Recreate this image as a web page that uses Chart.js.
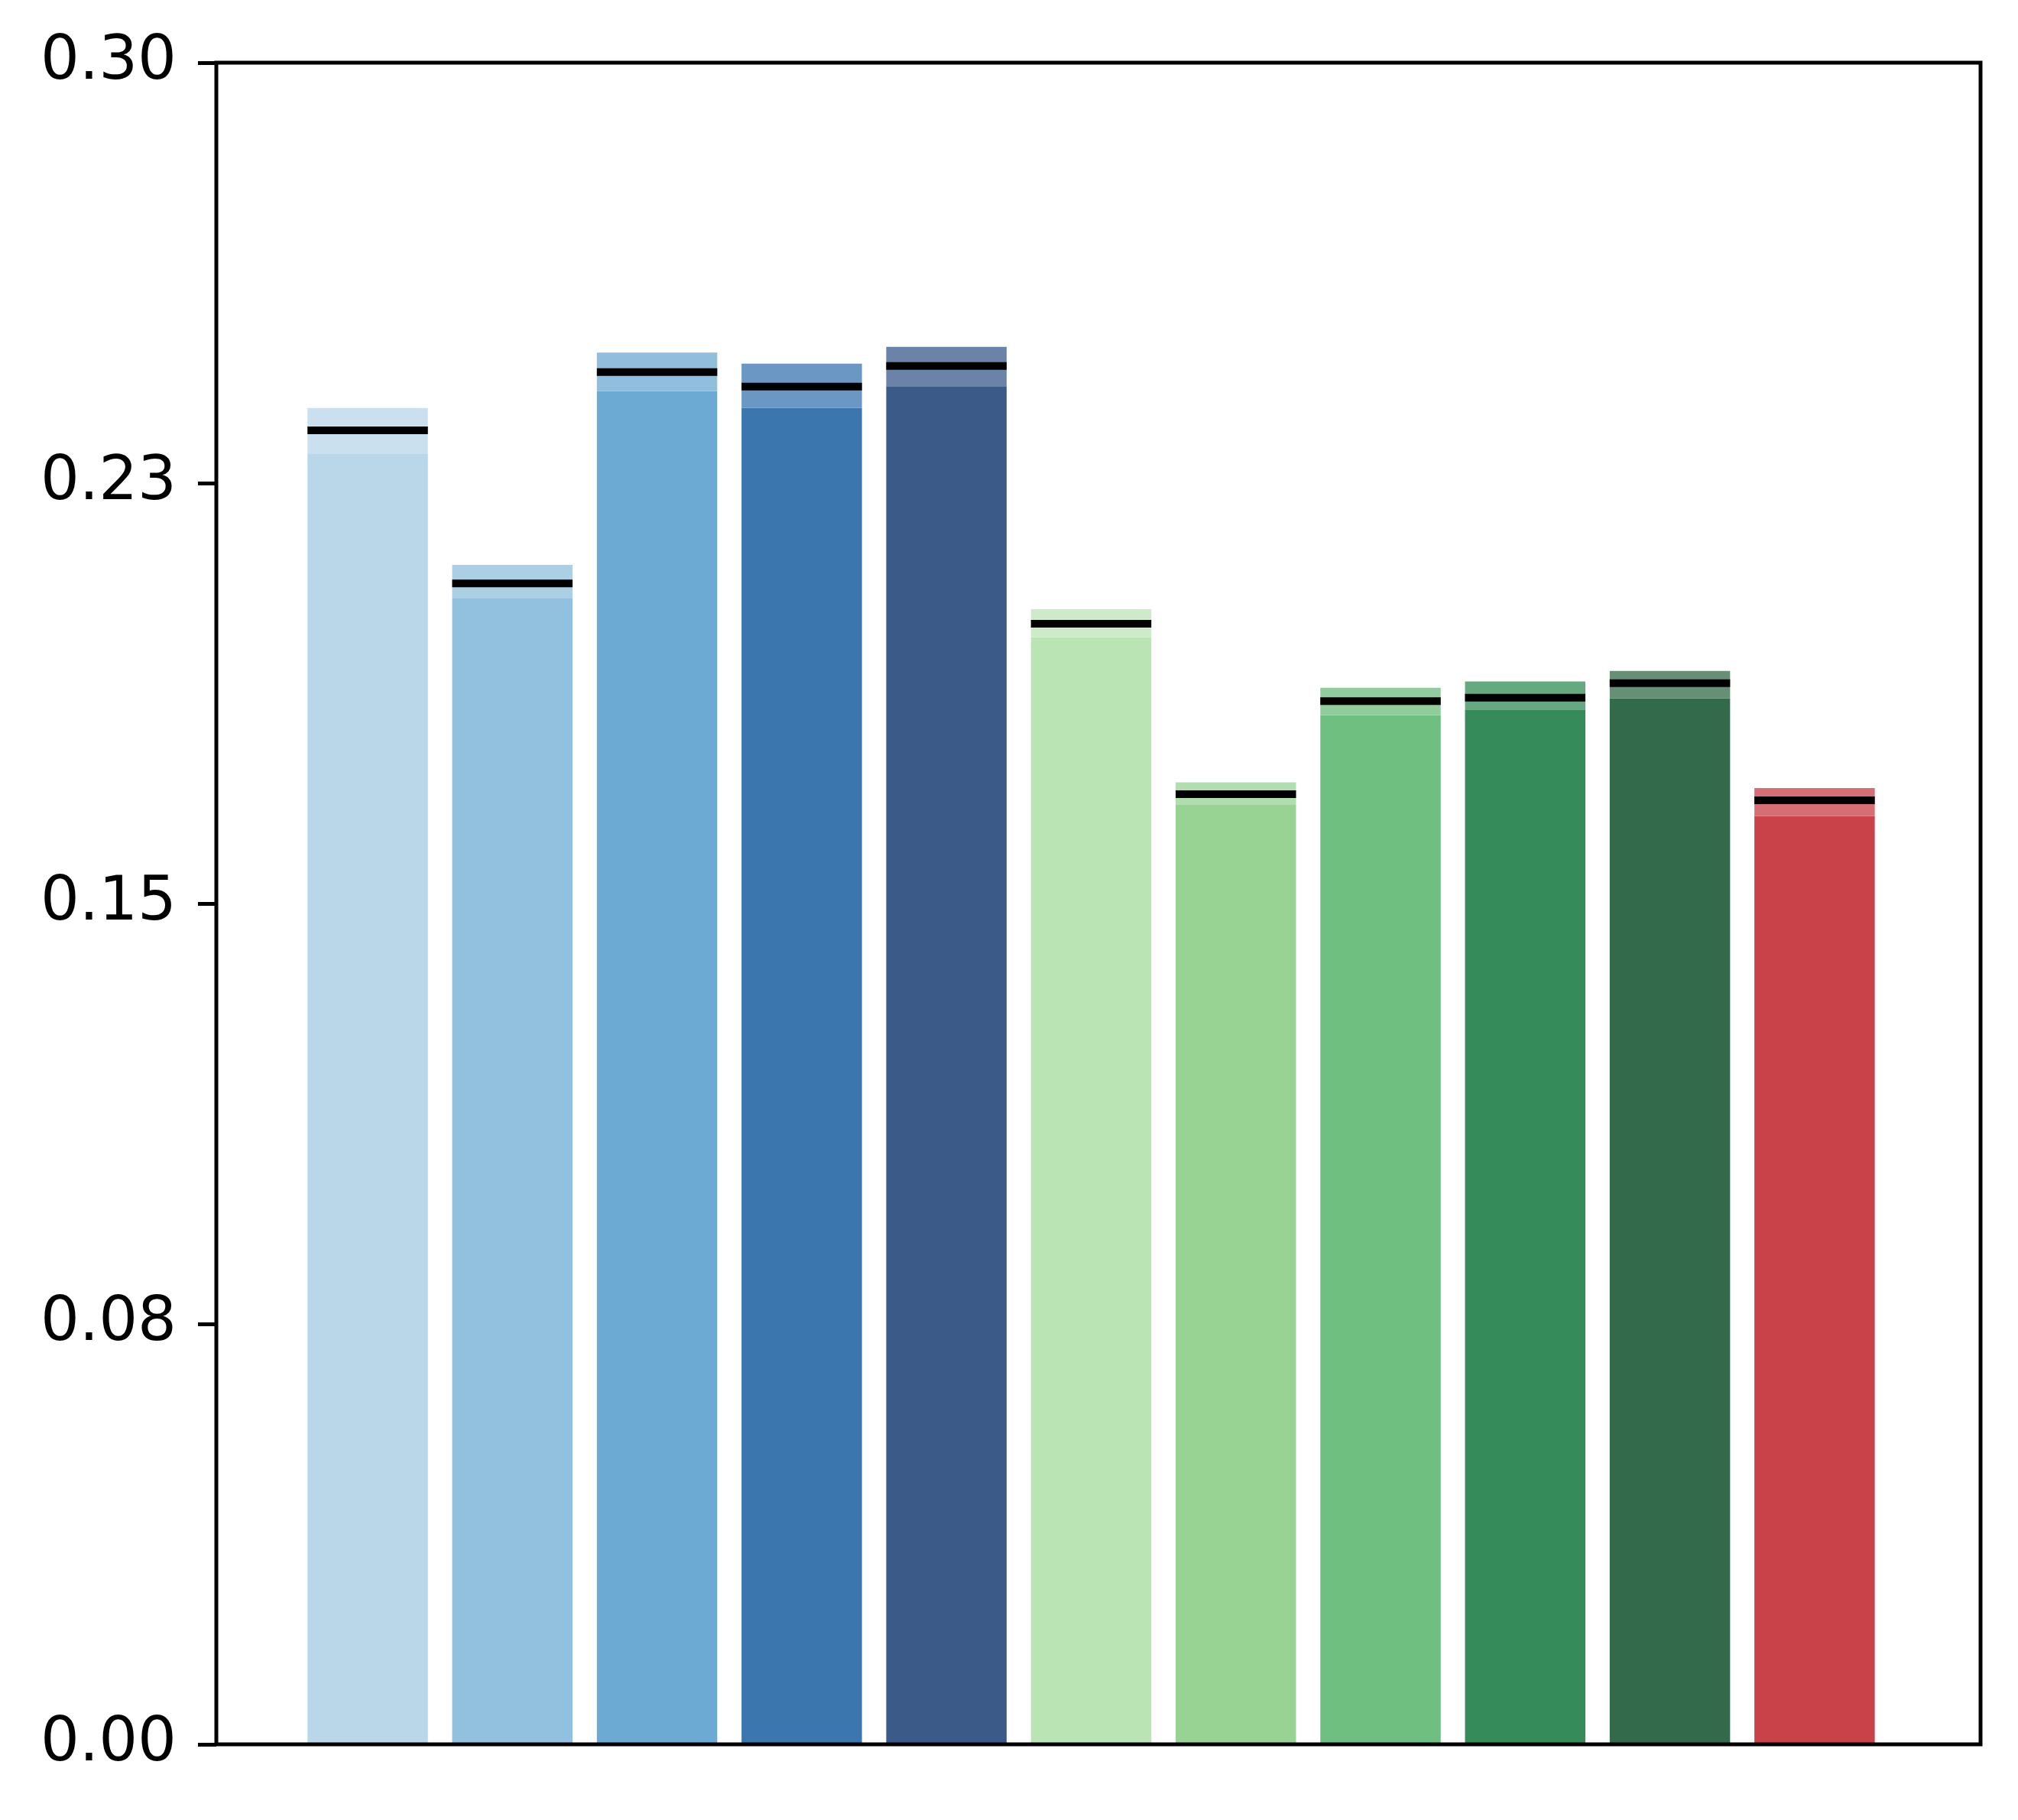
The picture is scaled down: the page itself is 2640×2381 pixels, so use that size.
<!DOCTYPE html>
<html>
<head>
<meta charset="utf-8">
<script src="https://cdn.jsdelivr.net/npm/chart.js@4/dist/chart.umd.min.js"></script>
<style>
  html, body { margin: 0; padding: 0; background: #fff; }
  #wrap { width: 2640px; height: 2381px; }
</style>
</head>
<body>
<div id="wrap"><canvas id="grafico"></canvas></div>
<script>
// posiciones de las barras (0..10)
var posiciones = [0, 1, 2, 3, 4, 5, 6, 7, 8, 9, 10];

// valor medio (linea negra) y banda inferior / superior
var medias = [0.2344, 0.2071, 0.2448, 0.2422, 0.2459, 0.1999, 0.1695, 0.1861, 0.1867, 0.1893, 0.1684];
var bajos  = [0.2303, 0.2044, 0.2414, 0.2384, 0.2423, 0.1975, 0.1676, 0.1836, 0.1845, 0.1866, 0.1656];
var altos  = [0.2384, 0.2104, 0.2483, 0.2463, 0.2493, 0.2025, 0.1716, 0.1885, 0.1896, 0.1915, 0.1706];

// colores base y de la banda
var coloresBase = ['#b9d7e9', '#92c0df', '#6caad4', '#3b76af', '#3b5a88',
                   '#bbe4b5', '#98d394', '#6ebf80', '#358b59', '#336a4b', '#c9424a'];
var coloresBanda = ['#cae0ee', '#abcfe5', '#91bedd', '#6b97c4', '#6b82a9',
                    '#cdebc9', '#b0deae', '#91cd9c', '#66a981', '#678f76', '#d66f74'];

// ticks del eje y
var ticksY = [0, 0.075, 0.15, 0.225, 0.30];
var etiquetasY = ['0.00', '0.08', '0.15', '0.23', '0.30'];

// Marco completo alrededor del area del grafico
var marco = {
    id: 'marco',
    afterDraw: function(chart) {
        var a = chart.chartArea;
        var ctx = chart.ctx;
        ctx.save();
        ctx.strokeStyle = '#000';
        ctx.lineWidth = 5;
        ctx.strokeRect(a.left, a.top, a.right - a.left, a.bottom - a.top);
        ctx.restore();
    }
};

var ctx = document.getElementById('grafico').getContext('2d');
var miGrafico = new Chart(ctx, {
    type: 'bar',
    data: {
        datasets: [{
            label: 'media',
            type: 'line',
            showLine: false,
            data: posiciones.map(function(x, i) { return { x: x, y: medias[i] }; }),
            pointStyle: 'line',
            pointRadius: 78.75,
            pointHoverRadius: 78.75,
            pointBorderWidth: 10,
            pointHoverBorderWidth: 10,
            borderColor: '#000',
            backgroundColor: '#000',
            clip: false,
            order: 0
        }, {
            label: 'banda',
            data: posiciones.map(function(x, i) { return { x: x, y: [bajos[i], altos[i]] }; }),
            backgroundColor: coloresBanda,
            borderWidth: 0,
            grouped: false,
            categoryPercentage: 1,
            barPercentage: 0.832,
            order: 1
        }, {
            label: 'base',
            data: posiciones.map(function(x, i) { return { x: x, y: [0, bajos[i]] }; }),
            backgroundColor: coloresBase,
            borderWidth: 0,
            grouped: false,
            categoryPercentage: 1,
            barPercentage: 0.832,
            order: 2
        }]
    },
    options: {
        responsive: true,
        maintainAspectRatio: false,
        devicePixelRatio: 1,
        animation: false,
        layout: { autoPadding: false, padding: { left: 0, top: 82, right: 49, bottom: 99 } },
        plugins: {
            legend: { display: false },
            tooltip: { enabled: false }
        },
        scales: {
            x: {
                type: 'linear',
                min: -1.046,
                max: 11.147,
                offset: false,
                display: false
            },
            y: {
                min: 0,
                max: 0.30,
                afterBuildTicks: function(scale) {
                    scale.ticks = ticksY.map(function(v) { return { value: v }; });
                },
                afterFit: function(scale) {
                    scale.width = 283;
                },
                ticks: {
                    callback: function(v, i) { return etiquetasY[i]; },
                    font: { family: 'DejaVu Sans', size: 80 },
                    color: '#000',
                    padding: 28
                },
                grid: {
                    drawOnChartArea: false,
                    drawTicks: true,
                    tickLength: 24,
                    tickWidth: 5,
                    tickColor: '#000'
                },
                border: { display: false }
            }
        }
    },
    plugins: [marco]
});
</script>
</body>
</html>
